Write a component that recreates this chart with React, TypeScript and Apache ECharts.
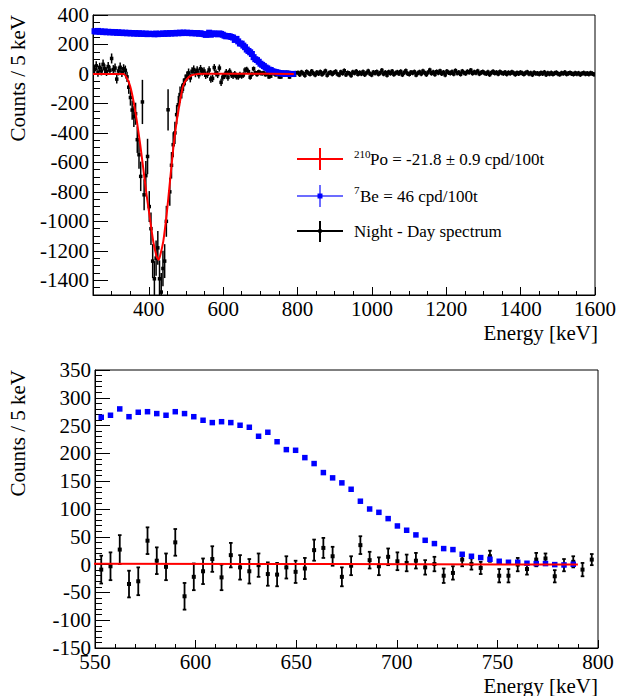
import React, { useEffect, useRef } from 'react';
import * as echarts from 'echarts';

const FONT = "'Liberation Serif', 'Times New Roman', serif";

// histogram binning (keV)
const BIN_START = 254.1;
const BIN_WIDTH = 4.6;
const ZOOM_FIRST_BIN = 65;

// Night - Day spectrum, bins 0..64 (254 - 549 keV)
const topBlackLow = [
  30, 55, 10, 45, 20, 65, 35, 15, 50, 25,
  105, 30, 40, -35, 20, 45, 10, 35, 25,
  -20, -90, -160, -245, -290, -270,
  -446, -548, -695, -190, -820, -690, -560, -900, -1050, -1270,
  -1390, -1250, -1180, -1390, -1480, -1320, -1270, -1000,
  -243, -800, -620, -480, -400, -276, -209, -140, -118, -73,
  -40, -16, 7, -27, 18, 30, 5, 25, -5, 35, 15, 20,
];
const topErrLow = [
  30, 32, 29, 31, 30, 33, 30, 29, 31, 30,
  34, 30, 31, 29, 30, 32, 30, 31, 32,
  35, 45, 55, 65, 70, 75,
  90, 95, 100, 150, 105, 100, 120, 105, 110, 115,
  120, 120, 115, 125, 130, 120, 115, 105,
  140, 95, 90, 85, 75, 65, 60, 55, 48, 42,
  36, 32, 30, 30, 28, 28, 27, 27, 26, 26, 26, 25,
];
// Night - Day spectrum in the zoomed window (553 - 797 keV)
const zoomBlack = [
  -9, -3, 27, -35, -30, 43, 7, -4, 40, -57, -22, -12, 10, -23, 17, -5, -12, -1,
  -17, -18, -5, -13, -7, 26, 30, 15, -22, -2, 35, 8, -3, 14, 6, 3, 7, -5,
  1, -20, -15, 9, 1, -6, 15, -20, -20, 0, -8, 9, 11, -21, -1, 5, -9, 9,
];
const zoomBlackErr = [
  25, 25, 26, 24, 25, 24, 24, 24, 24, 24, 24, 23, 23, 23, 22, 22, 22, 21,
  21, 21, 20, 20, 19, 19, 18, 17, 17, 17, 16, 15, 16, 15, 16, 15, 14, 13,
  13, 13, 12, 12, 10, 11, 10, 12, 12, 12, 10, 12, 9, 11, 11, 10, 12, 10,
];
// Night - Day spectrum above 800 keV
const topBlackHigh = [
  8, -4, 12, 3, -9, 15, 6, -2, 18, 4,
  -6, 10, 2, 14, -3, 7, 20, -8, 5, 11,
  -1, 9, 16, 0, -7, 13, 4, 22, -5, 8,
  3, -10, 12, 6, 17, -2, 9, 1, 14, -4,
  7, 19, 2, -6, 11, 5, 15, -1, 8, 24,
  0, 10, -8, 13, 4, 18, -3, 6, 12, 2,
  16, -5, 9, 21, 3, -2, 11, 7, 14, -7,
  5, 13, 1, 19, 8, -4, 10, 26, 4, 12,
  -3, 15, 7, 20, 2, 11, -6, 17, 9, 5,
  14, 0, 22, 6, 10, -2, 18, 8, 3, 16,
  11, 25, 4, 13, 7, 19, 1, 9, 15, 6,
  2, 12, -4, 8, 16, 5, 10, 0, 14, 7,
  3, 11, -1, 9, 4, 13, 6, -3, 8, 2,
  10, 5, -2, 7, 12, 1, 6, -5, 9, 3,
  4, -1, 8, 2, 11, -4, 6, 0, 7, -2,
  5, 9, 1, -3, 6, 3, 10, -1, 4, 8,
  2, -2, 6, 1, 5, -4, 3, 7, 0, 4,
  -1, 6, 2, -3,
];
const highErr = 16;

// 7Be spectrum
const topBlueLow = [
  290, 287, 292, 286, 289, 284, 288, 283, 286, 282,
  285, 281, 284, 279, 283, 278, 281, 277, 280, 276,
  279, 275, 278, 274, 277, 273, 276, 272, 275, 271,
  274, 270, 273, 271, 272, 269, 274, 270, 273, 271,
  275, 272, 276, 273, 277, 274, 278, 275, 279, 276,
  280, 277, 281, 278, 280, 277, 279, 276, 278, 275,
  277, 273, 276, 272, 270,
];
const zoomBlue = [
  265, 268.6, 280, 266, 274, 275, 271.6, 268.6, 275, 271.6, 266, 259.6, 255.4, 257, 255.4, 250.6, 247, 230.8,
  238, 221, 206.8, 205.6, 192.4, 181.7, 165.5, 156, 147, 135.5, 114, 100, 94, 82.7, 69.5, 61.8, 53.4, 43.7,
  37.8, 28.8, 27, 18.6, 15, 12.6, 9.6, 6, 4.2, 4.2, 2.4, 1.8, 1.8, 0, -0.6, 0.6,
];

// 210Po fit curve [keV, counts]
const fitCurve = [
  [250, 0], [332, 0], [341, -27], [350, -84], [359, -186], [368, -322], [377, -480],
  [385, -638], [394, -819], [403, -978], [412, -1136], [421, -1238], [426, -1260],
  [430, -1238], [439, -1136], [448, -955], [457, -729], [466, -502], [475, -322],
  [484, -186], [492, -84], [501, -38], [515, -9], [532, 0], [550, 1.5], [670, 1], [790, 0],
];

const topXLabels = [400, 600, 800, 1000, 1200, 1400, 1600];
const topYLabels = [400, 200, 0, -200, -400, -600, -800, -1000, -1200, -1400];

const energy = (k: number) => BIN_START + k * BIN_WIDTH;

function errRenderer(size: number, cap: number, lw: number, color: string) {
  return (params: any, api: any) => {
    const x = api.value(0);
    const y = api.value(1);
    const e = api.value(2);
    const c = api.coord([x, y]);
    const lo = api.coord([x, y - e]);
    const hi = api.coord([x, y + e]);
    const children: any[] = [
      { type: 'line', shape: { x1: c[0], y1: lo[1], x2: c[0], y2: hi[1] }, style: { stroke: color, lineWidth: lw } },
    ];
    if (cap > 0) {
      children.push({ type: 'line', shape: { x1: c[0] - cap, y1: lo[1], x2: c[0] + cap, y2: lo[1] }, style: { stroke: color, lineWidth: lw } });
      children.push({ type: 'line', shape: { x1: c[0] - cap, y1: hi[1], x2: c[0] + cap, y2: hi[1] }, style: { stroke: color, lineWidth: lw } });
    }
    children.push({ type: 'rect', shape: { x: c[0] - size / 2, y: c[1] - size / 2, width: size, height: size }, style: { fill: color } });
    return { type: 'group', children };
  };
}

function txt(x: number, y: number, text: string, size: number, align: string, vAlign: string, rotation = 0, color = '#000') {
  return {
    type: 'text', x, y, rotation, silent: true,
    style: {
      text, fill: color, fontSize: size, fontFamily: FONT,
      align, textAlign: align, verticalAlign: vAlign, textVerticalAlign: vAlign,
    },
  };
}
function seg(x1: number, y1: number, x2: number, y2: number, color: string, w: number) {
  return { type: 'line', silent: true, shape: { x1, y1, x2, y2 }, style: { stroke: color, lineWidth: w } };
}
function sq(cx: number, cy: number, s: number, color: string) {
  return { type: 'rect', silent: true, shape: { x: cx - s / 2, y: cy - s / 2, width: s, height: s }, style: { fill: color } };
}

export default function App() {
  const ref = useRef<HTMLDivElement>(null);
  useEffect(() => {
    if (!ref.current) return;
    const chart = echarts.init(ref.current, undefined, { renderer: 'svg' });

    const blackAll = [...topBlackLow, ...zoomBlack, ...topBlackHigh];
    const errAll = [...topErrLow, ...zoomBlackErr, ...topBlackHigh.map(() => highErr)];
    const blackTop = blackAll.map((v, k) => [energy(k), v, errAll[k]]);
    const blackBottom = zoomBlack.map((v, i) => [energy(ZOOM_FIRST_BIN + i), v, zoomBlackErr[i]]);
    const blueAll = [...topBlueLow, ...zoomBlue];
    const blueTop = blueAll.map((v, k) => [energy(k), v]);
    const blueBottom = zoomBlue.map((v, i) => [energy(ZOOM_FIRST_BIN + i), v]);

    const black = '#000';
    const lineStyle = { color: black, width: 1 };
    const labelStyle = { color: black, fontFamily: FONT, fontSize: 21 };

    const option: any = {
      animation: false,
      backgroundColor: '#fff',
      textStyle: { fontFamily: FONT },
      grid: [
        { left: 93, top: 15, width: 505, height: 280, show: true, borderColor: black, borderWidth: 1, backgroundColor: 'transparent' },
        { left: 95, top: 370, width: 503, height: 278, show: true, borderColor: black, borderWidth: 1, backgroundColor: 'transparent' },
      ],
      xAxis: [
        {
          gridIndex: 0, type: 'value', min: 250, max: 1600, interval: 50, position: 'bottom',
          axisLine: { show: true, onZero: false, lineStyle },
          axisTick: { show: true, inside: true, length: 4, lineStyle },
          axisLabel: { ...labelStyle, margin: 3, customValues: topXLabels, formatter: (v: number) => (v % 200 === 0 ? String(v) : '') },
          splitLine: { show: false },
        },
        {
          gridIndex: 0, type: 'value', min: 250, max: 1600, position: 'bottom', offset: 0,
          axisLine: { show: false, onZero: false },
          axisTick: { show: true, inside: true, length: 8, lineStyle, customValues: topXLabels },
          axisLabel: { show: false },
          splitLine: { show: false },
        },
        {
          gridIndex: 1, type: 'value', min: 550, max: 800, interval: 50, position: 'bottom',
          axisLine: { show: true, onZero: false, lineStyle },
          axisTick: { show: true, inside: true, length: 8, lineStyle },
          minorTick: { show: true, splitNumber: 5, length: 4, lineStyle },
          axisLabel: { ...labelStyle, margin: 3 },
          splitLine: { show: false },
          minorSplitLine: { show: false },
        },
      ],
      yAxis: [
        {
          gridIndex: 0, type: 'value', min: -1500, max: 400, interval: 50, position: 'left',
          axisLine: { show: true, onZero: false, lineStyle },
          axisTick: { show: true, inside: true, length: 7, lineStyle },
          axisLabel: { ...labelStyle, margin: 4, customValues: topYLabels, formatter: (v: number) => (v % 200 === 0 ? String(v) : '') },
          splitLine: { show: false },
        },
        {
          gridIndex: 0, type: 'value', min: -1500, max: 400, position: 'left', offset: 0,
          axisLine: { show: false, onZero: false },
          axisTick: { show: true, inside: true, length: 15, lineStyle, customValues: topYLabels },
          axisLabel: { show: false },
          splitLine: { show: false },
        },
        {
          gridIndex: 1, type: 'value', min: -150, max: 350, interval: 50, position: 'left',
          axisLine: { show: true, onZero: false, lineStyle },
          axisTick: { show: true, inside: true, length: 15, lineStyle },
          minorTick: { show: true, splitNumber: 5, length: 7, lineStyle },
          axisLabel: { ...labelStyle, margin: 4 },
          splitLine: { show: false },
          minorSplitLine: { show: false },
        },
      ],
      series: [
        {
          type: 'custom', xAxisIndex: 0, yAxisIndex: 0, clip: true, silent: true,
          renderItem: errRenderer(3.5, 0, 1.5, black), encode: { x: 0, y: 1 }, data: blackTop,
        },
        {
          type: 'line', xAxisIndex: 0, yAxisIndex: 0, showSymbol: false, silent: true, smooth: 0.2,
          lineStyle: { color: '#ff0000', width: 2 }, data: fitCurve,
        },
        {
          type: 'scatter', xAxisIndex: 0, yAxisIndex: 0, symbol: 'rect', symbolSize: 6, silent: true,
          itemStyle: { color: '#0000ff', opacity: 1 }, data: blueTop,
        },
        {
          type: 'custom', xAxisIndex: 2, yAxisIndex: 2, clip: true, silent: true,
          renderItem: errRenderer(4, 1.8, 1.8, black), encode: { x: 0, y: 1 }, data: blackBottom,
        },
        {
          type: 'line', xAxisIndex: 2, yAxisIndex: 2, showSymbol: false, silent: true,
          lineStyle: { color: '#ff0000', width: 2 }, data: fitCurve,
        },
        {
          type: 'scatter', xAxisIndex: 2, yAxisIndex: 2, symbol: 'rect', symbolSize: 5.5, silent: true,
          itemStyle: { color: '#0000ff', opacity: 1 }, data: blueBottom,
        },
      ],
      graphic: [
        txt(18, 15, 'Counts / 5 keV', 21, 'right', 'middle', Math.PI / 2),
        txt(18, 370, 'Counts / 5 keV', 21, 'right', 'middle', Math.PI / 2),
        txt(598, 333, 'Energy [keV]', 21, 'right', 'middle'),
        txt(598, 686, 'Energy [keV]', 21, 'right', 'middle'),
        // legend
        seg(297, 159, 343, 159, '#ff0000', 2),
        seg(320, 148, 320, 170, '#ff0000', 2),
        txt(354, 154, '210', 11, 'left', 'middle'),
        txt(370, 159, 'Po = -21.8 ± 0.9 cpd/100t', 17, 'left', 'middle'),
        seg(297, 196, 343, 196, '#3b3bff', 1.5),
        seg(320, 185, 320, 207, '#3b3bff', 1.5),
        sq(320, 196, 5, '#0000ff'),
        txt(354, 190, '7', 11, 'left', 'middle'),
        txt(360, 196, 'Be = 46 cpd/100t', 17, 'left', 'middle'),
        seg(297, 231, 343, 231, black, 2),
        seg(320, 221, 320, 242, black, 2),
        sq(320, 231, 3.5, black),
        txt(354, 231, 'Night - Day spectrum', 17, 'left', 'middle'),
      ],
    };
    chart.setOption(option);
    return () => chart.dispose();
  }, []);
  return <div ref={ref} style={{ position: 'fixed', left: 0, top: 0, width: 619, height: 696, background: '#fff' }} />;
}
